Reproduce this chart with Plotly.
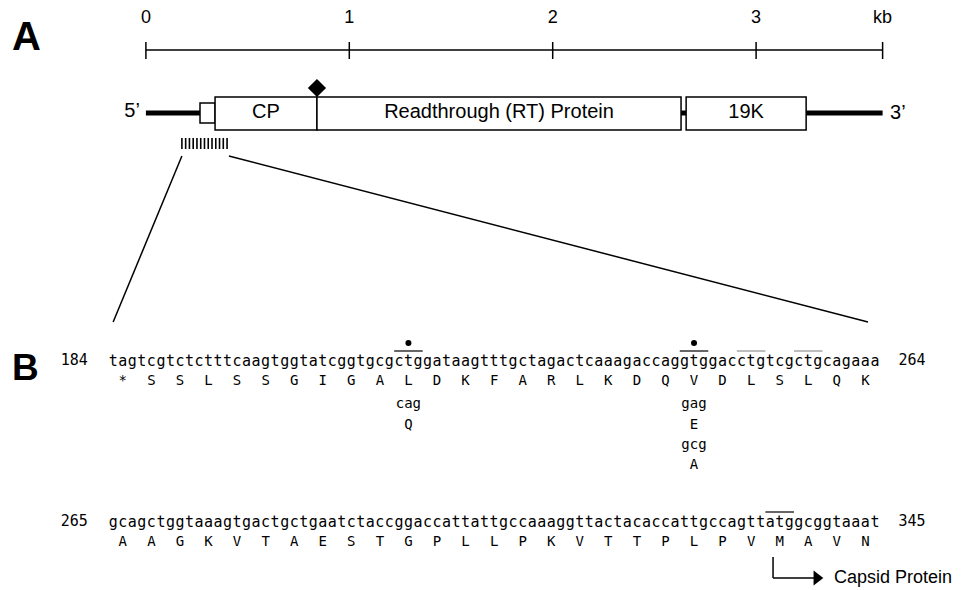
import plotly.graph_objects as go
import numpy as np

# ---------------- Panel A data (kb) ----------------
scale_ticks_kb = [0, 1, 2, 3]
scale_tick_labels = ["0", "1", "2", "3"]
scale_end_kb = 3.622
scale_end_label = "kb"

utr5_kb = [0.0, 0.266]
leader_box_kb = [0.266, 0.340]
gene_names = ["CP", "Readthrough (RT) Protein", "19K"]
gene_starts_kb = [0.340, 0.841, 2.656]
gene_ends_kb = [0.841, 2.631, 3.246]
linker_kb = [2.631, 2.656]
utr3_kb = [3.246, 3.622]
readthrough_site_kb = 0.841
probe_region_kb = [0.177, 0.399]
zoom_top_kb = [0.177, 0.408]
zoom_bottom_kb = [-0.161, 3.55]

# ---------------- Panel B data ----------------
seq_first_pos = [184, 265]
seq_last_pos = [264, 345]
seq_lines = [
    "tagtcgtctctttcaagtggtatcggtgcgctggataagtttgctagactcaaagaccaggtggacctgtcgctgcagaaa",
    "gcagctggtaaagtgactgctgaatctaccggaccattattgccaaaggttactacaccattgccagttatggcggtaaat",
]
aa_lines = [
    "*SSLSSGIGALDKFARLKDQVDLSLQK",
    "AAGKVTAESTGPLLPKVTTPLPVMAVN",
]
mutant_codons = [10, 20]                     # codon index in line 1
mutant_variants = [["cag", "Q"], ["gag", "E", "gcg", "A"]]
dotted_codons = [10, 20]                     # line 1
overline_solid = [(0, 10), (0, 20), (1, 23)]  # (line, codon)
overline_faint = [(0, 22), (0, 24)]
capsid_start_codon = 23                      # line 2

# ---------------- layout constants (page-pixel-like y) ----------------
Y_SCALE_LABEL = 18
Y_SCALE = 50
Y_GENOME = 113
Y_SEQ = [362, 523]
Y_AA = [381, 542]
Y_VAR = [404, 425, 445, 465]

SANS = "Liberation Sans, Arial, sans-serif"
MONO = "DejaVu Sans Mono, monospace"

fig = go.Figure()

# ---- scale bar ----
fig.add_shape(type="line", xref="x", yref="y", x0=0, x1=scale_end_kb,
              y0=Y_SCALE, y1=Y_SCALE, line=dict(color="black", width=1.5))
for t in scale_ticks_kb + [scale_end_kb]:
    fig.add_shape(type="line", xref="x", yref="y", x0=t, x1=t,
                  y0=Y_SCALE - 8, y1=Y_SCALE + 9, line=dict(color="black", width=1.5))
fig.add_trace(go.Scatter(
    x=scale_ticks_kb + [scale_end_kb], y=[Y_SCALE_LABEL] * 5,
    text=scale_tick_labels + [scale_end_label], mode="text",
    textfont=dict(family=SANS, size=18, color="black"), hoverinfo="skip"))

# ---- genome map ----
for seg in (utr5_kb, utr3_kb, linker_kb):
    fig.add_shape(type="line", xref="x", yref="y", x0=seg[0], x1=seg[1],
                  y0=Y_GENOME, y1=Y_GENOME, line=dict(color="black", width=5), layer="below")
fig.add_shape(type="rect", xref="x", yref="y", x0=leader_box_kb[0], x1=leader_box_kb[1],
              y0=Y_GENOME - 10, y1=Y_GENOME + 10, line=dict(color="black", width=1.5),
              fillcolor="white", layer="below")
for s, e in zip(gene_starts_kb, gene_ends_kb):
    fig.add_shape(type="rect", xref="x", yref="y", x0=s, x1=e,
                  y0=Y_GENOME - 16, y1=Y_GENOME + 17, line=dict(color="black", width=1.5),
                  fillcolor="white", layer="below")
fig.add_trace(go.Scatter(
    x=[(s + e) / 2 for s, e in zip(gene_starts_kb, gene_ends_kb)],
    y=[Y_GENOME] * 3, text=gene_names, mode="text",
    textfont=dict(family=SANS, size=20, color="black"), hoverinfo="skip"))
fig.add_trace(go.Scatter(
    x=[utr5_kb[0] - 0.068, utr3_kb[1] + 0.075], y=[Y_GENOME - 1, Y_GENOME + 1],
    text=["5\u2019", "3\u2019"], mode="text",
    textfont=dict(family=SANS, size=20, color="black"), hoverinfo="skip"))
fig.add_trace(go.Scatter(
    x=[readthrough_site_kb], y=[Y_GENOME - 25], mode="markers",
    marker=dict(symbol="diamond", size=14, color="black"), hoverinfo="skip"))

# probe hatch
hatch_x = np.linspace(probe_region_kb[0], probe_region_kb[1], 13)
for hx in hatch_x:
    fig.add_shape(type="line", xref="x", yref="y", x0=hx, x1=hx, y0=138, y1=149,
                  line=dict(color="black", width=1.6))

# zoom lines
fig.add_shape(type="line", xref="x", yref="y", x0=zoom_top_kb[0], x1=zoom_bottom_kb[0],
              y0=156, y1=322, line=dict(color="black", width=1.5))
fig.add_shape(type="line", xref="x", yref="y", x0=zoom_top_kb[1], x1=zoom_bottom_kb[1],
              y0=156, y1=322, line=dict(color="black", width=1.5))

# ---- sequence panel (x2 = nucleotide index within line) ----
for li in range(2):
    seq = seq_lines[li]
    fig.add_trace(go.Scatter(
        x=list(range(len(seq))), y=[Y_SEQ[li]] * len(seq), text=list(seq), mode="text",
        textfont=dict(family=MONO, size=15, color="black"),
        xaxis="x2", hoverinfo="skip"))
    aa = aa_lines[li]
    fig.add_trace(go.Scatter(
        x=[3 * k + 1 for k in range(len(aa))], y=[Y_AA[li]] * len(aa), text=list(aa),
        mode="text", textfont=dict(family=MONO, size=14, color="black"),
        xaxis="x2", hoverinfo="skip"))
    fig.add_trace(go.Scatter(
        x=[-4.1, 83.9], y=[Y_SEQ[li] - 1] * 2,
        text=[str(seq_first_pos[li]), str(seq_last_pos[li])], mode="text",
        textfont=dict(family=MONO, size=15, color="black"),
        xaxis="x2", hoverinfo="skip"))

# variants
for c, var in zip(mutant_codons, mutant_variants):
    fig.add_trace(go.Scatter(
        x=[3 * c + 1] * len(var), y=Y_VAR[:len(var)], text=var, mode="text",
        textfont=dict(family=MONO, size=14, color="black"),
        xaxis="x2", hoverinfo="skip"))

# dots
fig.add_trace(go.Scatter(
    x=[3 * c + 1 for c in dotted_codons], y=[343] * len(dotted_codons), mode="markers",
    marker=dict(symbol="circle", size=6, color="black"), xaxis="x2", hoverinfo="skip"))

# overlines
for li, c in overline_solid:
    yy = Y_SEQ[li] - 11
    fig.add_shape(type="line", xref="x2", yref="y", x0=3 * c - 0.5, x1=3 * c + 2.5,
                  y0=yy, y1=yy, line=dict(color="black", width=1.2))
for li, c in overline_faint:
    yy = Y_SEQ[li] - 11
    fig.add_shape(type="line", xref="x2", yref="y", x0=3 * c - 0.5, x1=3 * c + 2.5,
                  y0=yy, y1=yy, line=dict(color="#888888", width=1.1))

# capsid protein start arrow
ax0 = 3 * capsid_start_codon + 0.3
fig.add_shape(type="line", xref="x2", yref="y", x0=ax0, x1=ax0, y0=557, y1=578,
              line=dict(color="black", width=1.5))
fig.add_shape(type="line", xref="x2", yref="y", x0=ax0, x1=ax0 + 4.5, y0=578, y1=578,
              line=dict(color="black", width=1.5))
fig.add_trace(go.Scatter(
    x=[ax0 + 4.6], y=[578], mode="markers",
    marker=dict(symbol="triangle-right", size=13, color="black"),
    xaxis="x2", hoverinfo="skip"))
fig.add_trace(go.Scatter(
    x=[ax0 + 6.4], y=[578], text=["Capsid Protein"], mode="text", textposition="middle right",
    textfont=dict(family=SANS, size=18, color="black"), xaxis="x2", hoverinfo="skip"))

# ---- page geometry (browser body has an 8px margin) ----
OFF = 8
W, H = 962 - OFF, 590 - OFF

# panel letters
fig.add_annotation(x=(26 - OFF) / W, xref="paper", xanchor="center", y=36, yref="y",
                   yanchor="middle", text="<b>A</b>", showarrow=False,
                   font=dict(family=SANS, size=40, color="black"))
fig.add_annotation(x=(25 - OFF) / W, xref="paper", xanchor="center", y=367, yref="y",
                   yanchor="middle", text="<b>B</b>", showarrow=False,
                   font=dict(family=SANS, size=37, color="black"))

KB_OFF, KB_PX = 145.9, 203.4
CH_OFF, CH_PX = 113.3, 9.52
fig.update_layout(
    width=W, height=H, margin=dict(l=0, r=0, t=0, b=0),
    paper_bgcolor="white", plot_bgcolor="white", showlegend=False,
    xaxis=dict(range=[(OFF - KB_OFF) / KB_PX, (962 - KB_OFF) / KB_PX], visible=False,
               fixedrange=True),
    xaxis2=dict(range=[(OFF - CH_OFF) / CH_PX, (962 - CH_OFF) / CH_PX], visible=False,
                overlaying="x", anchor="y", fixedrange=True),
    yaxis=dict(range=[590, OFF], visible=False, fixedrange=True),
)

fig.write_html("out.html", config={"displayModeBar": False})
